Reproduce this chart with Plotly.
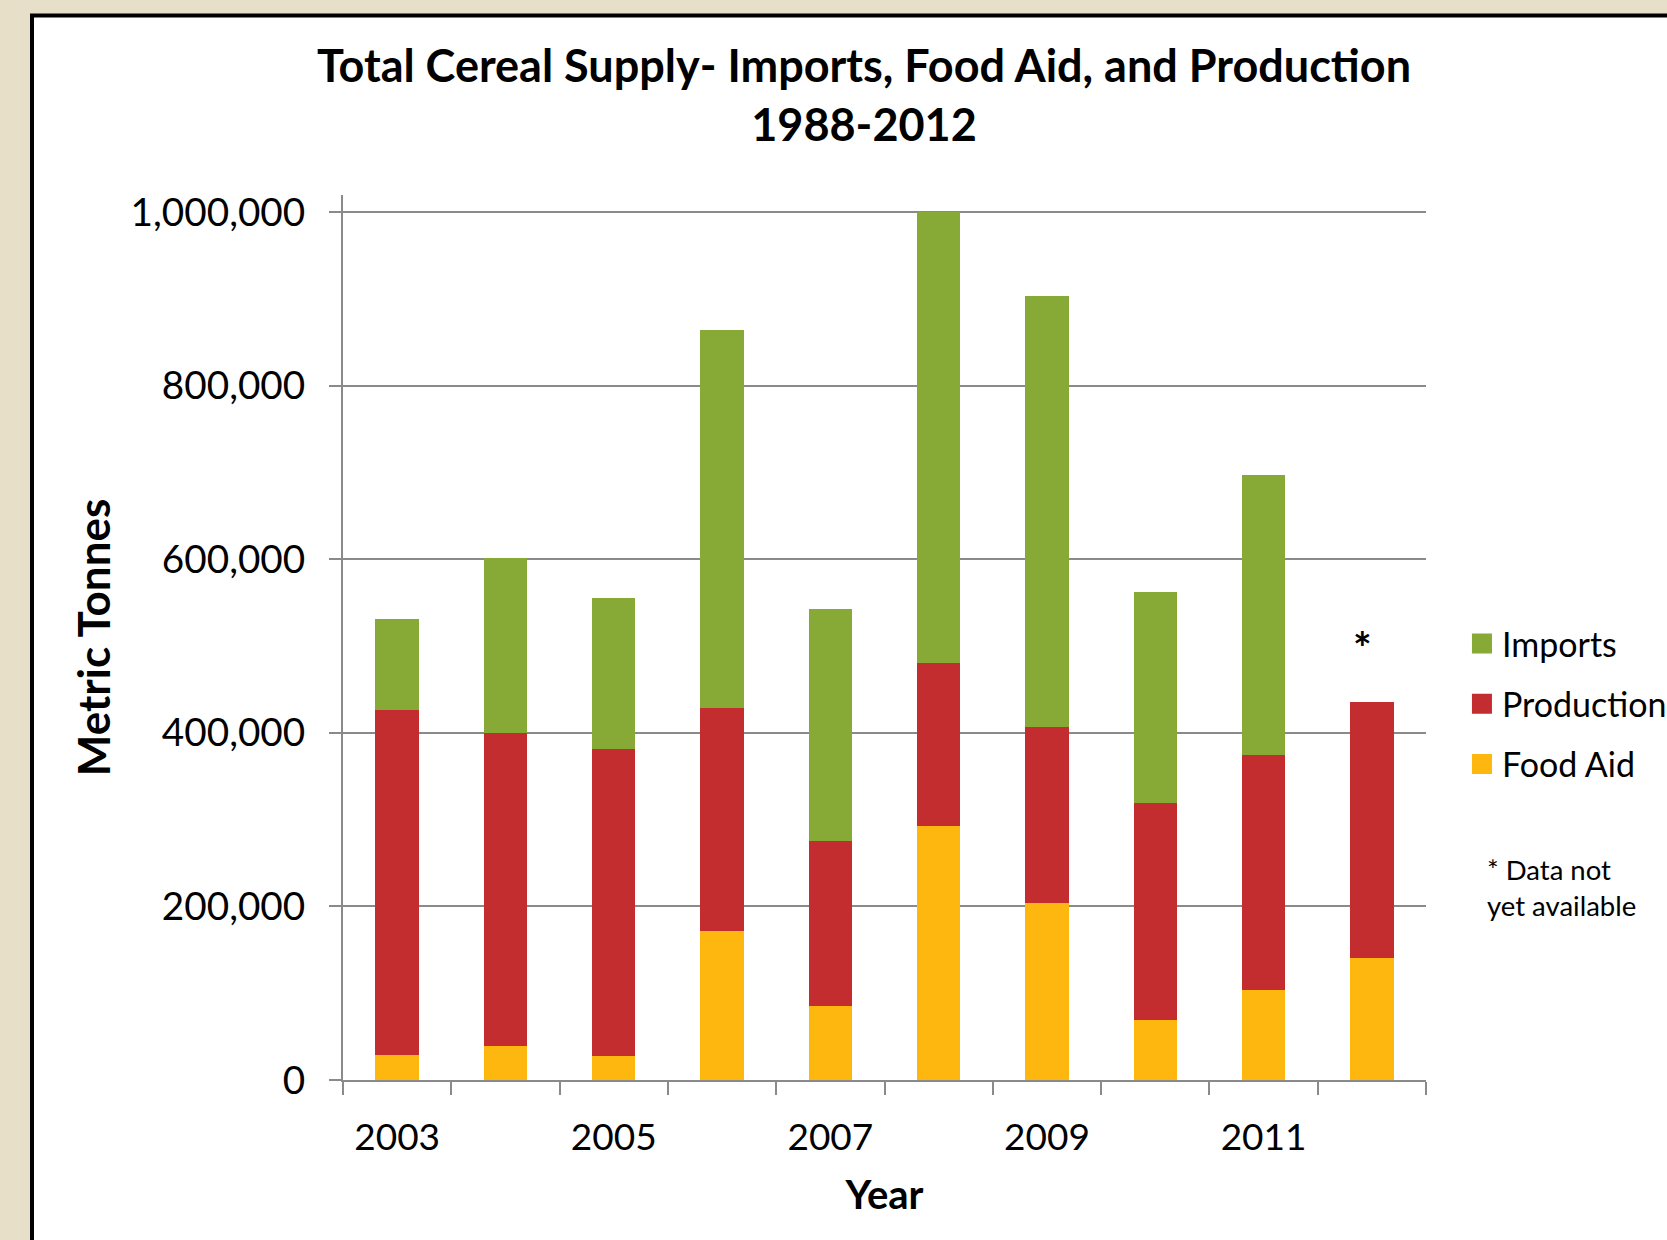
import plotly.graph_objects as go

years = [2003, 2004, 2005, 2006, 2007, 2008, 2009, 2010, 2011, 2012]
food_aid = [28500, 39000, 28000, 172000, 85000, 293000, 204000, 69000, 104000, 141000]
production = [398500, 361000, 354000, 257000, 190000, 188000, 202500, 250000, 271000, 295000]
imports = [104000, 202000, 174000, 435000, 268000, 519000, 497500, 243000, 322000, None]

x_tick_vals = [2003, 2005, 2007, 2009, 2011]
x_tick_text = ["2003", "2005", "2007", "2009", "2011"]
y_tick_vals = [0, 200000, 400000, 600000, 800000, 1000000]

series_names = ["Food Aid", "Production", "Imports"]
series_colors = ["#FDB70E", "#C42D2F", "#86AA35"]

FONT = "Lato"
GRID = "#8A8A8A"

fig = go.Figure()
for name, vals, col in zip(series_names, [food_aid, production, imports], series_colors):
    fig.add_trace(go.Bar(x=years, y=vals, name=name, marker_color=col,
                         marker_line_width=0, width=0.4, showlegend=False))

# legend entries (larger square symbols), top to bottom: Imports, Production, Food Aid
for name, col in zip(series_names[::-1], series_colors[::-1]):
    fig.add_trace(go.Scatter(x=[None], y=[None], mode="markers", name=name,
                             legendgroup=name,
                             marker=dict(symbol="square", size=16, color=col,
                                         line=dict(color=col, width=4))))

fig.update_layout(
    width=1667, height=1240,
    margin=dict(l=343, r=241, t=195, b=160, pad=0, autoexpand=False),
    paper_bgcolor="#E8DFC9",
    plot_bgcolor="rgba(0,0,0,0)",
    barmode="stack",
    font=dict(family=FONT, color="black"),
    title=dict(text="<b>Total Cereal Supply- Imports, Food Aid, and Production<br>1988-2012</b>",
               x=864 / 1667, xanchor="center", y=1 - 82 / 1240, yanchor="top",
               font=dict(size=45, family=FONT, color="black")),
    legend=dict(x=1.0332, xanchor="left", y=0.425, yanchor="middle",
                font=dict(size=34, family=FONT, color="black"),
                traceorder="grouped", tracegroupgap=13,
                bgcolor="rgba(0,0,0,0)", itemsizing="trace"),
    xaxis=dict(range=[2002.5, 2012.5], tickvals=x_tick_vals, ticktext=x_tick_text,
               ticks="", showgrid=False, zeroline=False,
               showline=True, linecolor=GRID, linewidth=2,
               tickfont=dict(size=37, family=FONT, color="black"),
               ticklabelstandoff=24,
               minor=dict(tickvals=[2002.5 + i for i in range(11)], ticks="outside",
                          ticklen=13, tickwidth=2, tickcolor=GRID, showgrid=False),
               title=dict(text="<b>Year</b>", font=dict(size=40, family=FONT, color="black"),
                          standoff=24)),
    yaxis=dict(range=[0, 1020000], tickvals=y_tick_vals, tickformat=",d",
               ticks="outside", ticklen=12, tickwidth=2, tickcolor=GRID,
               showgrid=True, gridcolor=GRID, gridwidth=2, zeroline=False,
               showline=True, linecolor=GRID, linewidth=2,
               tickfont=dict(size=38.7, family=FONT, color="black"),
               ticklabelstandoff=16,
               title=dict(text="<b>Metric Tonnes</b>", font=dict(size=44, family=FONT, color="black"),
                          standoff=6)),
    shapes=[dict(type="rect", xref="paper", yref="paper",
                 x0=(32 - 343) / 1083, x1=(1720 - 343) / 1083,
                 y0=(1080 - 1300) / 885.4, y1=(1080 - 15) / 885.4,
                 fillcolor="white", line=dict(color="black", width=4), layer="below")],
    annotations=[
        dict(x=2012, y=499000, xref="x", yref="y", text="<b>*</b>", showarrow=False,
             xshift=-9, font=dict(size=44, family=FONT, color="black"), yanchor="middle"),
        dict(x=(1485 - 343) / 1083, y=(1080 - 887) / 885.4, xref="paper", yref="paper",
             text="* Data not<br>yet available", showarrow=False, align="left",
             xanchor="left", yanchor="middle",
             font=dict(size=27.5, family=FONT, color="black")),
    ],
)

fig.write_html("out.html")
